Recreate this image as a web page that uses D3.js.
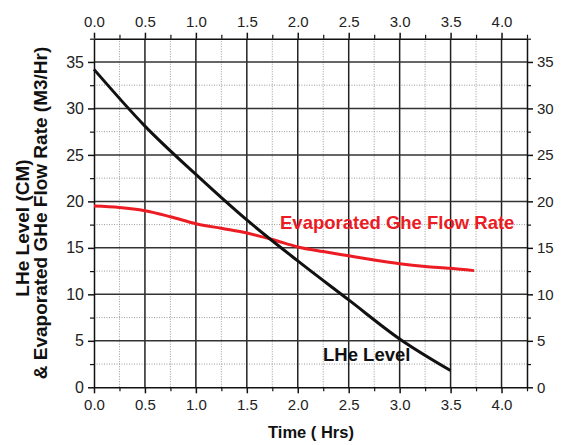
<!DOCTYPE html>
<html>
<head>
<meta charset="utf-8">
<script src="https://cdn.jsdelivr.net/npm/d3@7"></script>
<style>
  html, body { margin: 0; padding: 0; background: #fff; }
  svg { display: block; font-family: "Liberation Sans", Arial, Helvetica, sans-serif; }
</style>
</head>
<body>
<svg id="chart" width="561" height="445"></svg>
<script>
// Time axis (hours) and readings
const timeHrs   = [0, 0.5, 1.0, 1.5, 2.0, 2.5, 3.0, 3.5];
const lheLevel  = [34.2, 28.1, 22.9, 18.0, 13.6, 9.4, 5.2, 1.8];
const flowTime  = [0, 0.25, 0.5, 0.75, 1.0, 1.25, 1.5, 1.75, 2.0, 2.25, 2.5, 2.75, 3.0, 3.25, 3.5, 3.73];
const flowRate  = [19.5, 19.35, 19.0, 18.35, 17.6, 17.1, 16.6, 15.9, 15.1, 14.6, 14.15, 13.7, 13.3, 13.0, 12.8, 12.55];

const xMajorTicks = [0, 0.5, 1.0, 1.5, 2.0, 2.5, 3.0, 3.5, 4.0];
const xMinorTicks = [0.25, 0.75, 1.25, 1.75, 2.25, 2.75, 3.25, 3.75, 4.25];
const yMajorTicks = [0, 5, 10, 15, 20, 25, 30, 35];
const yMinorTicks = [2.5, 7.5, 12.5, 17.5, 22.5, 27.5, 32.5, 37.5];

const seriesLabels = { lhe: "LHe Level", flow: "Evaporated Ghe Flow Rate" };
const xTitle = "Time ( Hrs)";
const yTitleLines = ["LHe Level (CM)", "& Evaporated GHe Flow Rate (M3/Hr)"];

const RED = "#ec1c24";
const plot = { left: 94, right: 527, top: 38.7, bottom: 387.3 };

const svg = d3.select("#chart");
const x = d3.scaleLinear().domain([0, 4.25]).range([plot.left, plot.right]);
const y = d3.scaleLinear().domain([0, 37.5]).range([plot.bottom, plot.top]);

// minor grid (dotted)
const grid = svg.append("g");
grid.selectAll(".vminor").data(xMinorTicks.filter(d => d < 4.25)).join("line")
  .attr("x1", d => x(d)).attr("x2", d => x(d))
  .attr("y1", plot.top).attr("y2", plot.bottom)
  .attr("stroke", "#9a9a9a").attr("stroke-width", 1).attr("stroke-dasharray", "1,1.5");
grid.selectAll(".hminor").data(yMinorTicks.filter(d => d < 37.5)).join("line")
  .attr("x1", plot.left).attr("x2", plot.right)
  .attr("y1", d => y(d)).attr("y2", d => y(d))
  .attr("stroke", "#9a9a9a").attr("stroke-width", 1).attr("stroke-dasharray", "1,1.5");

// major grid (solid)
grid.selectAll(".vmajor").data(xMajorTicks.filter(d => d > 0)).join("line")
  .attr("x1", d => x(d)).attr("x2", d => x(d))
  .attr("y1", plot.top).attr("y2", plot.bottom)
  .attr("stroke", "#222").attr("stroke-width", 1.5);
grid.selectAll(".hmajor").data(yMajorTicks.filter(d => d > 0)).join("line")
  .attr("x1", plot.left).attr("x2", plot.right)
  .attr("y1", d => y(d)).attr("y2", d => y(d))
  .attr("stroke", "#333").attr("stroke-width", 1.5);

// axes: major ticks with labels, minor ticks without
function styleAxis(g, size) {
  g.select(".domain").attr("stroke", "#111").attr("stroke-width", 1.5);
  g.selectAll(".tick line").attr("stroke", "#111").attr("stroke-width", 1.5);
  g.selectAll("text").attr("fill", "#222").style("font-size", size + "px");
}
function minorAxis(axisFn, scale, ticks, transform) {
  const g = svg.append("g").attr("transform", transform)
    .call(axisFn(scale).tickValues(ticks).tickSize(4).tickFormat(""));
  g.select(".domain").remove();
  g.selectAll(".tick line").attr("stroke", "#111").attr("stroke-width", 1.2);
}
const fmtX = d3.format(".1f");

const gB = svg.append("g").attr("transform", `translate(0,${plot.bottom})`)
  .call(d3.axisBottom(x).tickValues(xMajorTicks).tickFormat(fmtX).tickSize(6).tickSizeOuter(0).tickPadding(6));
styleAxis(gB, 15);
minorAxis(d3.axisBottom, x, xMinorTicks, `translate(0,${plot.bottom})`);

const gT = svg.append("g").attr("transform", `translate(0,${plot.top})`)
  .call(d3.axisTop(x).tickValues(xMajorTicks).tickFormat(fmtX).tickSize(6).tickSizeOuter(0).tickPadding(6));
styleAxis(gT, 15);
minorAxis(d3.axisTop, x, xMinorTicks, `translate(0,${plot.top})`);

const gL = svg.append("g").attr("transform", `translate(${plot.left},0)`)
  .call(d3.axisLeft(y).tickValues(yMajorTicks).tickSize(6).tickSizeOuter(0).tickPadding(4));
styleAxis(gL, 16);
minorAxis(d3.axisLeft, y, yMinorTicks, `translate(${plot.left},0)`);

const gR = svg.append("g").attr("transform", `translate(${plot.right},0)`)
  .call(d3.axisRight(y).tickValues(yMajorTicks).tickSize(6).tickSizeOuter(0).tickPadding(4));
styleAxis(gR, 15);
minorAxis(d3.axisRight, y, yMinorTicks, `translate(${plot.right},0)`);

// series lines
const line = d3.line().x(d => x(d[0])).y(d => y(d[1])).curve(d3.curveMonotoneX);
svg.append("path").datum(flowTime.map((t, i) => [t, flowRate[i]]))
  .attr("d", line).attr("fill", "none").attr("stroke", RED).attr("stroke-width", 3);
svg.append("path").datum(timeHrs.map((t, i) => [t, lheLevel[i]]))
  .attr("d", line).attr("fill", "none").attr("stroke", "#111").attr("stroke-width", 3);

// series labels
svg.append("text").attr("x", 280).attr("y", 229)
  .attr("fill", RED).attr("font-weight", "bold").style("font-size", "18.5px")
  .text(seriesLabels.flow);
svg.append("text").attr("x", 323).attr("y", 361)
  .attr("fill", "#111").attr("font-weight", "bold").style("font-size", "18.5px")
  .text(seriesLabels.lhe);

// axis titles
svg.append("text").attr("x", 311).attr("y", 438)
  .attr("text-anchor", "middle").attr("fill", "#111").attr("font-weight", "bold")
  .style("font-size", "16.5px").text(xTitle);

const yTitle = svg.append("text").attr("transform", "rotate(-90)")
  .attr("text-anchor", "middle").attr("fill", "#111").attr("font-weight", "bold")
  .style("font-size", "19px");
yTitle.append("tspan").attr("x", -228).attr("y", 29).text(yTitleLines[0]);
yTitle.append("tspan").attr("x", -213).attr("y", 47).text(yTitleLines[1]);
</script>
</body>
</html>
